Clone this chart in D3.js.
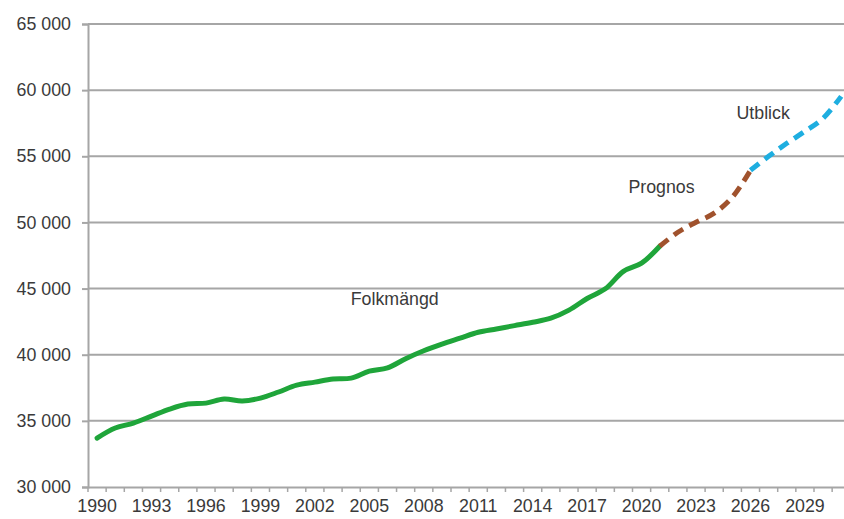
<!DOCTYPE html>
<html>
<head>
<meta charset="utf-8">
<script src="https://cdn.jsdelivr.net/npm/d3@7"></script>
<style>
  html, body { margin: 0; padding: 0; background: #fff; }
  svg { display: block; }
  text { font-family: "Liberation Sans", Arial, sans-serif; }
</style>
</head>
<body>
<svg id="chart" width="844" height="519"></svg>
<script>
// ---- data ----
const years = d3.range(1990, 2032);               // categories 1990..2031
const histYears = d3.range(1990, 2022);           // Folkmängd
const histValues = [33700, 34460, 34830, 35360, 35890, 36270, 36340, 36650, 36500, 36720,
                    37180, 37700, 37930, 38160, 38230, 38760, 39000, 39700, 40300, 40800,
                    41250, 41700, 41950, 42200, 42450, 42760, 43370, 44250, 44980, 46300,
                    46920, 48200];
const progYears = [2021, 2022, 2023, 2024, 2025, 2026];   // Prognos
const progValues = [48200, 49260, 50010, 50700, 51900, 53940];
const utbYears = [2026, 2027, 2028, 2029, 2030, 2031];    // Utblick
const utbValues = [53940, 55000, 55980, 56890, 57870, 59530];
const yTicks = [30000, 35000, 40000, 45000, 50000, 55000, 60000, 65000];
const labels = [
  {text: "Folkmängd", year: 2006.4, value: 44150},
  {text: "Prognos", year: 2021.1, value: 52550},
  {text: "Utblick", year: 2026.7, value: 58150}
];

// ---- layout ----
const svg = d3.select("#chart");
const mLeft = 88, mTop = 24, mBottom = 487;
const step = 18.15;
const mRight = mLeft + years.length * step;

const x = d3.scaleBand().domain(years).range([mLeft, mRight]).padding(0);
const cx = yr => x(yr) + x.bandwidth() / 2;
const y = d3.scaleLinear().domain([30000, 65000]).range([mBottom, mTop]);

const grid = "#a6a6a6";
const textCol = "#3a3a3a";
const fs = "17.8px";

// gridlines
svg.append("g").selectAll("line").data(yTicks.slice(1)).join("line")
  .attr("x1", mLeft).attr("x2", mRight)
  .attr("y1", d => y(d)).attr("y2", d => y(d))
  .attr("stroke", grid).attr("stroke-width", 2);

// y axis
const fmt = d => d3.format(",")(d).replace(/,/g, "\u00a0");
const yAxis = svg.append("g").attr("transform", `translate(${mLeft},0)`)
  .call(d3.axisLeft(y).tickValues(yTicks).tickSize(6).tickFormat(fmt).tickPadding(11));
yAxis.select(".domain").attr("stroke", grid).attr("stroke-width", 2);
yAxis.selectAll(".tick line").attr("stroke", grid).attr("stroke-width", 2);
yAxis.selectAll("text").attr("fill", textCol).style("font-size", fs)
  .style("font-family", "'Liberation Sans', Arial, sans-serif");

// x axis
const xAxis = svg.append("g").attr("transform", `translate(0,${mBottom})`)
  .call(d3.axisBottom(x).tickSize(0).tickPadding(12)
    .tickFormat(d => (d - 1990) % 3 === 0 ? d : ""));
xAxis.select(".domain").attr("stroke", grid).attr("stroke-width", 2);
xAxis.selectAll("text").attr("fill", textCol).style("font-size", fs)
  .style("font-family", "'Liberation Sans', Arial, sans-serif");
// category boundary ticks
svg.append("g").selectAll("line").data(years).join("line")
  .attr("x1", d => x(d)).attr("x2", d => x(d))
  .attr("y1", mBottom).attr("y2", mBottom + 5)
  .attr("stroke", grid).attr("stroke-width", 1.5);

// lines
const line = d3.line().x(d => cx(d[0])).y(d => y(d[1])).curve(d3.curveCatmullRom.alpha(0.5));
svg.append("path").datum(d3.zip(histYears, histValues))
  .attr("d", line).attr("fill", "none").attr("stroke", "#1fa53a")
  .attr("stroke-width", 5).attr("stroke-linecap", "round").attr("stroke-linejoin", "round");
svg.append("path").datum(d3.zip(progYears, progValues))
  .attr("d", line).attr("fill", "none").attr("stroke", "#a0522d")
  .attr("stroke-width", 5).attr("stroke-dasharray", "11,7");
svg.append("path").datum(d3.zip(utbYears, utbValues))
  .attr("d", line).attr("fill", "none").attr("stroke", "#1eaee0")
  .attr("stroke-width", 5).attr("stroke-dasharray", "11,7");

// labels
svg.append("g").selectAll("text").data(labels).join("text")
  .attr("x", d => cx(Math.floor(d.year)) + (d.year % 1) * step)
  .attr("y", d => y(d.value))
  .attr("text-anchor", "middle").attr("dominant-baseline", "middle")
  .attr("fill", textCol).style("font-size", fs)
  .text(d => d.text);
</script>
</body>
</html>
